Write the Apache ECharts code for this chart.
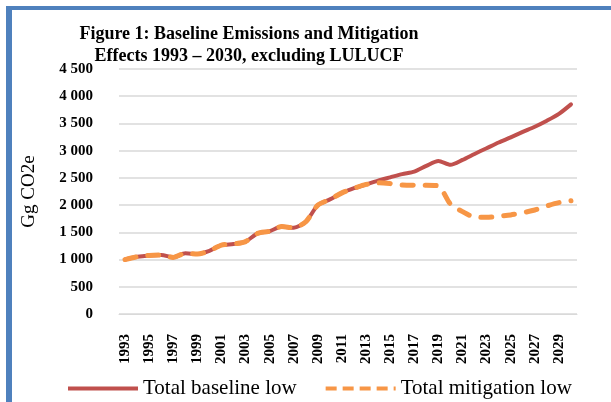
<!DOCTYPE html>
<html>
<head>
<meta charset="utf-8">
<script src="https://cdn.jsdelivr.net/npm/echarts@6/dist/echarts.min.js"></script>
<style>
html,body{margin:0;padding:0;background:#fff;}
#c{width:611px;height:402px;}
</style>
</head>
<body>
<div id="c"></div>
<script>
const years = [];
for (let y = 1993; y <= 2030; y++) years.push(String(y));
const baselineLow = [1000,1050,1075,1085,1040,1115,1100,1160,1265,1285,1330,1480,1520,1605,1585,1695,2000,2105,2225,2310,2380,2450,2510,2570,2615,2720,2810,2740,2830,2940,3045,3150,3245,3345,3440,3550,3675,3850];
const mitigationLow = [1000,1050,1075,1085,1040,1115,1100,1160,1265,1285,1330,1480,1520,1605,1585,1695,2000,2105,2225,2310,2380,2410,2395,2370,2365,2365,2350,2020,1880,1780,1775,1795,1820,1860,1910,1985,2045,2080];
const seriesNames = ['Total baseline low','Total mitigation low'];
const titleText = 'Figure 1: Baseline Emissions and Mitigation\nEffects 1993 \u2013 2030, excluding LULUCF';
const yAxisName = 'Gg CO2e';

const chart = echarts.init(document.getElementById('c'), null, {renderer:'canvas'});
const serif = '"Liberation Serif","Times New Roman",serif';
chart.setOption({
  backgroundColor:'#fff',
  animation:false,
  title:{
    text:titleText,
    left:244, top:18, textAlign:'center',
    textStyle:{fontFamily:serif,fontWeight:'bold',fontSize:18,lineHeight:22,color:'#000'}
  },
  graphic:[
    {type:'rect',shape:{x:6,y:6,width:6,height:400},style:{fill:'#4F81BD'},silent:true},
    {type:'rect',shape:{x:6,y:6,width:610,height:4},style:{fill:'#4F81BD'},silent:true}
  ],
  grid:{left:119,right:34,top:69,bottom:88,containLabel:false},
  legend:{
    data:[
      {name:seriesNames[0],itemStyle:{opacity:0},lineStyle:{color:'#C0504D',width:4,cap:'butt'}},
      {name:seriesNames[1],itemStyle:{opacity:0},lineStyle:{color:'#F79646',width:4,type:[11,6],cap:'butt'}}
    ],
    left:66, top:378, padding:0,
    itemWidth:70, itemHeight:20, itemGap:27,
    textStyle:{fontFamily:serif,fontSize:21,color:'#000'}
  },
  xAxis:{
    type:'category', data:years, boundaryGap:true,
    axisLine:{show:true,lineStyle:{color:'#d9d9d9',width:1}},
    axisTick:{show:false},
    axisLabel:{interval:1,rotate:90,margin:20,fontFamily:serif,fontWeight:'bold',fontSize:15,color:'#000'}
  },
  yAxis:{
    type:'value', min:0, max:4500, interval:500,
    name:yAxisName, nameLocation:'middle', nameRotate:90, nameGap:80,
    nameTextStyle:{fontFamily:serif,fontSize:19,color:'#000'},
    axisLine:{show:false}, axisTick:{show:false},
    splitLine:{lineStyle:{color:'#d9d9d9',width:1.5}},
    axisLabel:{margin:26,fontFamily:serif,fontWeight:'bold',fontSize:15,color:'#000',
      formatter:function(v){return String(v).replace(/\B(?=(\d{3})+(?!\d))/g,' ');}}
  },
  series:[
    {name:seriesNames[0],type:'line',data:baselineLow,symbol:'none',smooth:0.25,
     lineStyle:{color:'#C0504D',width:4,cap:'round',join:'round'},itemStyle:{color:'#C0504D'},z:2},
    {name:seriesNames[1],type:'line',data:mitigationLow,symbol:'none',smooth:0.25,
     lineStyle:{color:'#F79646',width:5,type:[11,12],cap:'round',join:'round'},itemStyle:{color:'#F79646'},z:3}
  ]
});
</script>
</body>
</html>
